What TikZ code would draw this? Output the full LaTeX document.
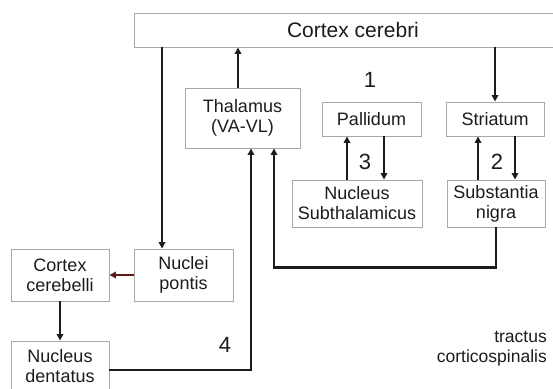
\documentclass[tikz,border=0pt]{standalone}
\usepackage{fontspec}
\setmainfont{Liberation Sans}
\usepackage{tikz}
\usetikzlibrary{arrows.meta, positioning, calc}
\definecolor{linegray}{RGB}{168,168,168}
\definecolor{inkblack}{RGB}{28,28,28}
\definecolor{pontred}{RGB}{95,25,25}
\tikzset{
  %% ---- boxes ----
  region/.style  = {rectangle, draw=linegray, line width=0.9pt,
                    fill=white, align=center, inner sep=0pt,
                    text=inkblack, font=\fontsize{18}{20}\selectfont},
  %% ---- labels ----
  loopnum/.style = {font=\fontsize{22}{22}\selectfont, text=inkblack},
  %% ---- arrows ----
  tract/.style   = {-{Triangle[length=6.5pt,width=6.5pt]},
                    line width=2.8pt, color=inkblack},
  redtract/.style= {tract, color=pontred},
}
\begin{document}
\begin{tikzpicture}[x=1pt, y=-1pt, line join=miter]
\useasboundingbox (0,0) rectangle (553,388);
\node[region, minimum width=438pt, minimum height=34pt,
      font=\fontsize{21}{23}\selectfont]         (cortex) at (353,30)    {Cortex cerebri};
\node[region, minimum width=115pt, minimum height=60pt] (thal)  at (242.5,118) {Thalamus\\(VA-VL)};
\node[region, minimum width=99pt,  minimum height=34pt] (pal)   at (371.5,119) {Pallidum};
\node[region, minimum width=98pt,  minimum height=34pt] (str)   at (495,119)   {Striatum};
\node[region, minimum width=130pt, minimum height=47pt] (ns)    at (357,203.5) {Nucleus\\Subthalamicus};
\node[region, minimum width=98pt,  minimum height=47pt] (sn)    at (496,203.5) {Substantia\\nigra};
\node[region, minimum width=98pt,  minimum height=52pt] (cereb) at (60,275)    {Cortex\\cerebelli};
\node[region, minimum width=99pt,  minimum height=52pt] (pont)  at (183.5,275) {Nuclei\\pontis};
\node[region, minimum width=98pt,  minimum height=51pt] (dent)  at (60,366.5)  {Nucleus\\dentatus};
%% loop numbers
\node[loopnum] (num1) at (370,80)  {1};
\node[loopnum] (num2) at (497,162) {2};
\node[loopnum] (num3) at (365,162) {3};
\node[loopnum] (num4) at (225,345) {4};
\node[anchor=east, align=right, inner sep=0pt, text=inkblack,
      font=\fontsize{17.5}{20}\selectfont]       (ctsp) at (547,349) {tractus\\corticospinalis};
%% connectors
\draw[tract] ([xshift=-4.5pt]thal.north) -- ([xshift=-4.5pt]thal.north |- cortex.south);
\draw[tract] (str.north |- cortex.south) -- (str.north);
\draw[tract] ([xshift=-21.5pt]pont.north |- cortex.south) -- ([xshift=-21.5pt]pont.north);
\draw[tract] ([xshift=-24.5pt]pal.south |- ns.north) -- ([xshift=-24.5pt]pal.south);
\draw[tract] ([xshift=12.5pt]pal.south) -- ([xshift=12.5pt]pal.south |- ns.north);
\draw[tract] ([xshift=-17pt]str.south |- sn.north) -- ([xshift=-17pt]str.south);
\draw[tract] ([xshift=20pt]str.south) -- ([xshift=20pt]str.south |- sn.north);
\draw[redtract] (pont.west) -- (cereb.east);
\draw[tract] (cereb.south) -- (dent.north);
\draw[tract] ([yshift=-3.5pt]dent.east) -| ([xshift=8.5pt]thal.south);
\draw[tract] (sn.south) -- ++(0,40) -| ([xshift=31.5pt]thal.south);
\end{tikzpicture}
\end{document}
